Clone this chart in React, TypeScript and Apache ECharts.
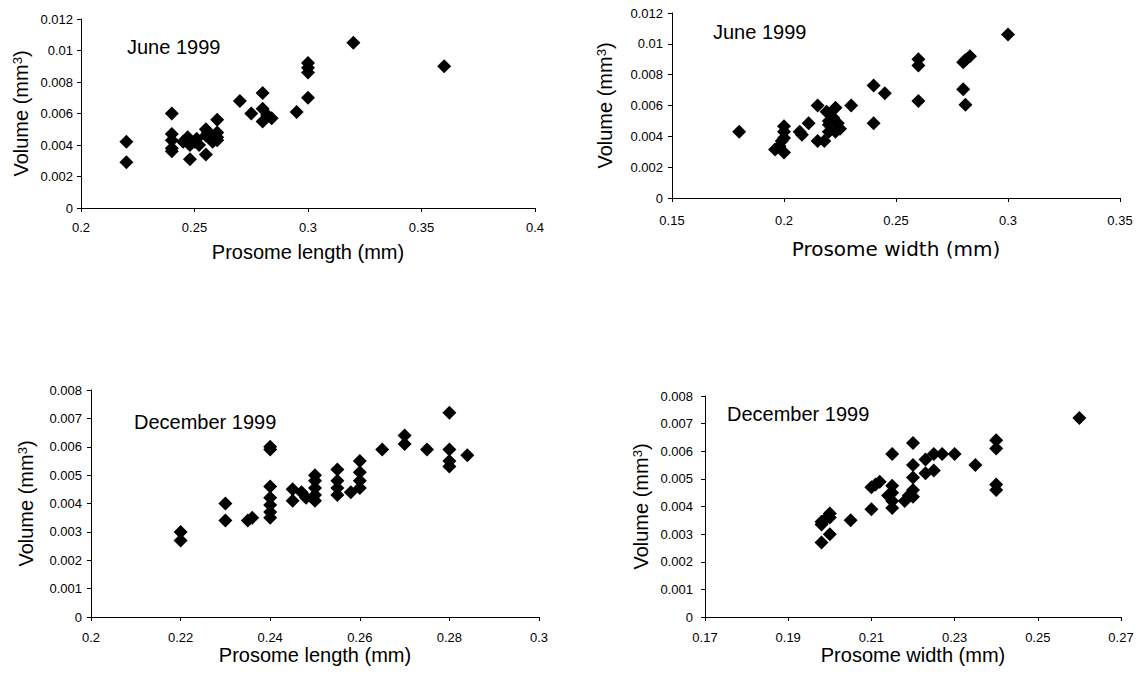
import React, { useEffect, useRef } from "react";
import * as echarts from "echarts";

// June 1999 – prosome length vs volume
const juneLength = [0.22, 0.22, 0.24, 0.24, 0.24, 0.24, 0.24, 0.245, 0.247, 0.248, 0.248, 0.25, 0.251, 0.252, 0.255, 0.255, 0.255, 0.256, 0.258, 0.258, 0.26, 0.26, 0.26, 0.26, 0.27, 0.275, 0.28, 0.28, 0.28, 0.282, 0.284, 0.295, 0.3, 0.3, 0.3, 0.3, 0.32, 0.36];
const juneLengthVolume = [0.0042, 0.0029, 0.006, 0.0047, 0.0043, 0.0038, 0.0036, 0.0042, 0.0045, 0.0031, 0.004, 0.0042, 0.0044, 0.004, 0.0034, 0.005, 0.0046, 0.0048, 0.0042, 0.0045, 0.0056, 0.0048, 0.0045, 0.0043, 0.0068, 0.006, 0.0073, 0.0063, 0.0055, 0.0059, 0.0057, 0.0061, 0.007, 0.0086, 0.0089, 0.0092, 0.0105, 0.009];

// June 1999 – prosome width vs volume
const juneWidth = [0.18, 0.196, 0.198, 0.199, 0.2, 0.2, 0.2, 0.2, 0.207, 0.208, 0.211, 0.215, 0.215, 0.218, 0.219, 0.22, 0.22, 0.22, 0.222, 0.223, 0.223, 0.225, 0.224, 0.23, 0.24, 0.24, 0.245, 0.26, 0.26, 0.26, 0.28, 0.281, 0.283, 0.28, 0.281, 0.3];
const juneWidthVolume = [0.0043, 0.00315, 0.00335, 0.0037, 0.00465, 0.0043, 0.00295, 0.0039, 0.0043, 0.0041, 0.00485, 0.006, 0.0037, 0.0037, 0.0056, 0.0043, 0.005, 0.00475, 0.0052, 0.00585, 0.0043, 0.0045, 0.00485, 0.006, 0.0073, 0.00485, 0.0068, 0.009, 0.0086, 0.0063, 0.0088, 0.00895, 0.0092, 0.00705, 0.00605, 0.0106];

// December 1999 – prosome length vs volume
const decLength = [0.22, 0.22, 0.23, 0.23, 0.235, 0.236, 0.24, 0.24, 0.24, 0.24, 0.24, 0.24, 0.24, 0.245, 0.245, 0.247, 0.248, 0.25, 0.25, 0.25, 0.25, 0.25, 0.255, 0.255, 0.255, 0.255, 0.258, 0.26, 0.26, 0.26, 0.26, 0.265, 0.27, 0.27, 0.275, 0.28, 0.28, 0.28, 0.28, 0.284];
const decLengthVolume = [0.003, 0.0027, 0.004, 0.0034, 0.0034, 0.0035, 0.006, 0.0059, 0.0046, 0.0042, 0.00395, 0.0037, 0.0035, 0.0045, 0.0041, 0.0044, 0.0042, 0.005, 0.0048, 0.00455, 0.0043, 0.0041, 0.0052, 0.0048, 0.00455, 0.0043, 0.0044, 0.0055, 0.0051, 0.0048, 0.00455, 0.0059, 0.0064, 0.0061, 0.0059, 0.0072, 0.0059, 0.0055, 0.0053, 0.0057];

// December 1999 – prosome width vs volume
const decWidth = [0.198, 0.198, 0.198, 0.199, 0.2, 0.2, 0.2, 0.205, 0.21, 0.21, 0.211, 0.212, 0.215, 0.215, 0.215, 0.215, 0.215, 0.214, 0.218, 0.219, 0.22, 0.22, 0.22, 0.22, 0.22, 0.223, 0.223, 0.225, 0.225, 0.227, 0.23, 0.235, 0.24, 0.24, 0.24, 0.24, 0.26];
const decWidthVolume = [0.0027, 0.00345, 0.00335, 0.00355, 0.0036, 0.00375, 0.003, 0.0035, 0.0039, 0.0047, 0.0048, 0.0049, 0.0059, 0.00475, 0.0045, 0.0042, 0.00395, 0.0044, 0.0042, 0.0044, 0.0063, 0.0055, 0.00505, 0.0046, 0.00435, 0.0052, 0.0057, 0.0053, 0.0059, 0.0059, 0.0059, 0.0055, 0.0064, 0.0061, 0.0048, 0.0046, 0.0072];

const panelLabels = ["June 1999", "June 1999", "December 1999", "December 1999"];
const xTitles = ["Prosome length (mm)", "Prosome width (mm)", "Prosome length (mm)", "Prosome width (mm)"];
const yTitle = "Volume (mm{s|3})";

const pairs = (xs: number[], ys: number[]) => xs.map((x, i) => [x, ys[i]]);

export default function App() {
  const ref = useRef<HTMLDivElement>(null);
  useEffect(() => {
    const chart = echarts.init(ref.current as HTMLDivElement, null, { renderer: "svg" });
    const font = "'Liberation Sans', Arial, Helvetica, sans-serif";
    const fmt = (v: number) => String(parseFloat(Number(v).toFixed(4)));

    const mkX = (gi: number, min: number, max: number, interval: number, gap: number, margin: number, nameSize: number, nameFont: string) => ({
      type: "value",
      gridIndex: gi,
      min,
      max,
      interval,
      name: xTitles[gi],
      nameLocation: "middle",
      nameGap: gap,
      nameTextStyle: { fontSize: nameSize, color: "#000", fontFamily: nameFont },
      axisLine: { show: true, onZero: false, lineStyle: { color: "#000", width: 1 } },
      axisTick: { show: true, length: 4, inside: false, lineStyle: { color: "#000", width: 1 } },
      axisLabel: { fontSize: 13, color: "#000", margin, formatter: fmt, fontFamily: font, showMinLabel: true, showMaxLabel: true },
      splitLine: { show: false },
    });
    const mkY = (gi: number, max: number, interval: number, gap: number, margin: number) => ({
      type: "value",
      gridIndex: gi,
      min: 0,
      max,
      interval,
      name: yTitle,
      nameLocation: "middle",
      nameGap: gap,
      nameRotate: 90,
      nameTextStyle: {
        fontSize: 20,
        color: "#000",
        fontFamily: font,
        rich: { s: { fontSize: 13, color: "#000", fontFamily: font, verticalAlign: "top", lineHeight: 12 } },
      },
      axisLine: { show: true, onZero: false, lineStyle: { color: "#000", width: 1 } },
      axisTick: { show: true, length: 4, inside: false, lineStyle: { color: "#000", width: 1 } },
      axisLabel: { fontSize: 13, color: "#000", margin, formatter: fmt, fontFamily: font, showMinLabel: true, showMaxLabel: true },
      splitLine: { show: false },
    });
    const mkSeries = (gi: number, data: number[][]) => ({
      type: "scatter",
      xAxisIndex: gi,
      yAxisIndex: gi,
      symbol: "diamond",
      symbolSize: 14,
      itemStyle: { color: "#000", opacity: 1 },
      data,
    });
    const label = (i: number, left: number, top: number) => ({
      type: "text",
      left,
      top,
      style: { text: panelLabels[i], fontSize: 20, fill: "#000", fontFamily: font },
    });

    chart.setOption({
      animation: false,
      backgroundColor: "#fff",
      grid: [
        { left: 81, top: 19, width: 454, height: 189 },
        { left: 672, top: 13, width: 448, height: 185 },
        { left: 91, top: 390, width: 448, height: 227 },
        { left: 705, top: 396, width: 416, height: 221 },
      ],
      xAxis: [
        mkX(0, 0.2, 0.4, 0.05, 34, 13, 20, font),
        mkX(1, 0.15, 0.35, 0.05, 41, 16, 20, "'DejaVu Sans', 'Liberation Sans', sans-serif"),
        mkX(2, 0.2, 0.3, 0.02, 27, 14, 20, font),
        mkX(3, 0.17, 0.27, 0.02, 27, 14, 20, font),
      ],
      yAxis: [
        mkY(0, 0.012, 0.002, 50, 8),
        mkY(1, 0.012, 0.002, 57, 9),
        mkY(2, 0.008, 0.001, 55, 9),
        mkY(3, 0.008, 0.001, 54, 12),
      ],
      series: [
        mkSeries(0, pairs(juneLength, juneLengthVolume)),
        mkSeries(1, pairs(juneWidth, juneWidthVolume)),
        mkSeries(2, pairs(decLength, decLengthVolume)),
        mkSeries(3, pairs(decWidth, decWidthVolume)),
      ],
      graphic: [label(0, 127, 37), label(1, 713, 22), label(2, 134, 412), label(3, 727, 404)],
    });
    return () => chart.dispose();
  }, []);

  return (
    <div
      ref={ref}
      style={{ position: "fixed", left: 0, top: 0, width: 1137, height: 679, background: "#fff" }}
    />
  );
}
